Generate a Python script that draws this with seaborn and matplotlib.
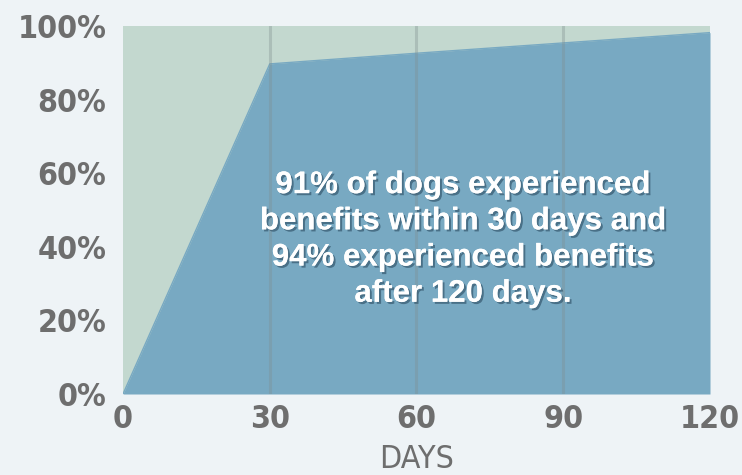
import matplotlib
matplotlib.use("Agg")
import matplotlib.pyplot as plt
import matplotlib.patheffects as pe
import seaborn as sns
import pandas as pd

days = [0, 30, 60, 90, 120]
pct = [0, 89.7, 92.6, 95.4, 98.2]
x_ticks = [0, 30, 60, 90, 120]
y_ticks = [0, 20, 40, 60, 80, 100]
y_labels = ["0%", "20%", "40%", "60%", "80%", "100%"]
note = "91% of dogs experienced\nbenefits within 30 days and\n94% experienced benefits\nafter 120 days."

BG = "#eef3f6"
GREEN = "#c3d8cf"
BLUE = "#78a9c2"
TXT = "#6e6e6e"

sns.set_theme(style="white")
plt.rcParams["font.family"] = ["DejaVu Sans"]
plt.rcParams["font.stretch"] = "condensed"

df = pd.DataFrame({"days": days, "pct": pct})

fig = plt.figure(figsize=(7.42, 4.75), dpi=100, facecolor=BG)
ax = fig.add_axes([123/742, 1-394/475, (710-123)/742, (394-26)/475])
ax.set_facecolor(GREEN)

ax.fill_between(df["days"], df["pct"], 0, color=BLUE, lw=0, zorder=2)
sns.lineplot(data=df, x="days", y="pct", ax=ax, color=BLUE, lw=1, zorder=3)

for g in [30, 60, 90]:
    ax.axvline(g, color="#7f8f8f", alpha=0.35, lw=2.2, zorder=4)

ax.set_xlim(0, 120)
ax.set_ylim(0, 100)
ax.set_xticks(x_ticks)
ax.set_xticklabels([str(t) for t in x_ticks])
ax.set_yticks(y_ticks)
ax.set_yticklabels(y_labels)
for s in ax.spines.values():
    s.set_visible(False)
ax.tick_params(axis="both", length=0, labelsize=23, labelcolor=TXT)
ax.tick_params(axis="y", pad=12)
ax.tick_params(axis="x", pad=7)
for lab in ax.get_xticklabels() + ax.get_yticklabels():
    lab.set_fontweight("bold")
    lab.set_fontstretch("condensed")
ax.set_xlabel("DAYS", fontsize=23, color=TXT, labelpad=7, fontstretch="condensed")
ax.set_ylabel("")

ax.text(69.5, 42.0, note, ha="center", va="center", color="white", fontsize=22.5,
        fontweight="bold", family=["Liberation Sans", "DejaVu Sans"],
        fontstretch="normal", linespacing=1.27, zorder=6,
        path_effects=[pe.withSimplePatchShadow(offset=(1.5, -1.5), shadow_rgbFace="#2a4a60", alpha=0.6),
                      pe.Normal()])

fig.savefig("out.png", dpi=100, facecolor=BG)
